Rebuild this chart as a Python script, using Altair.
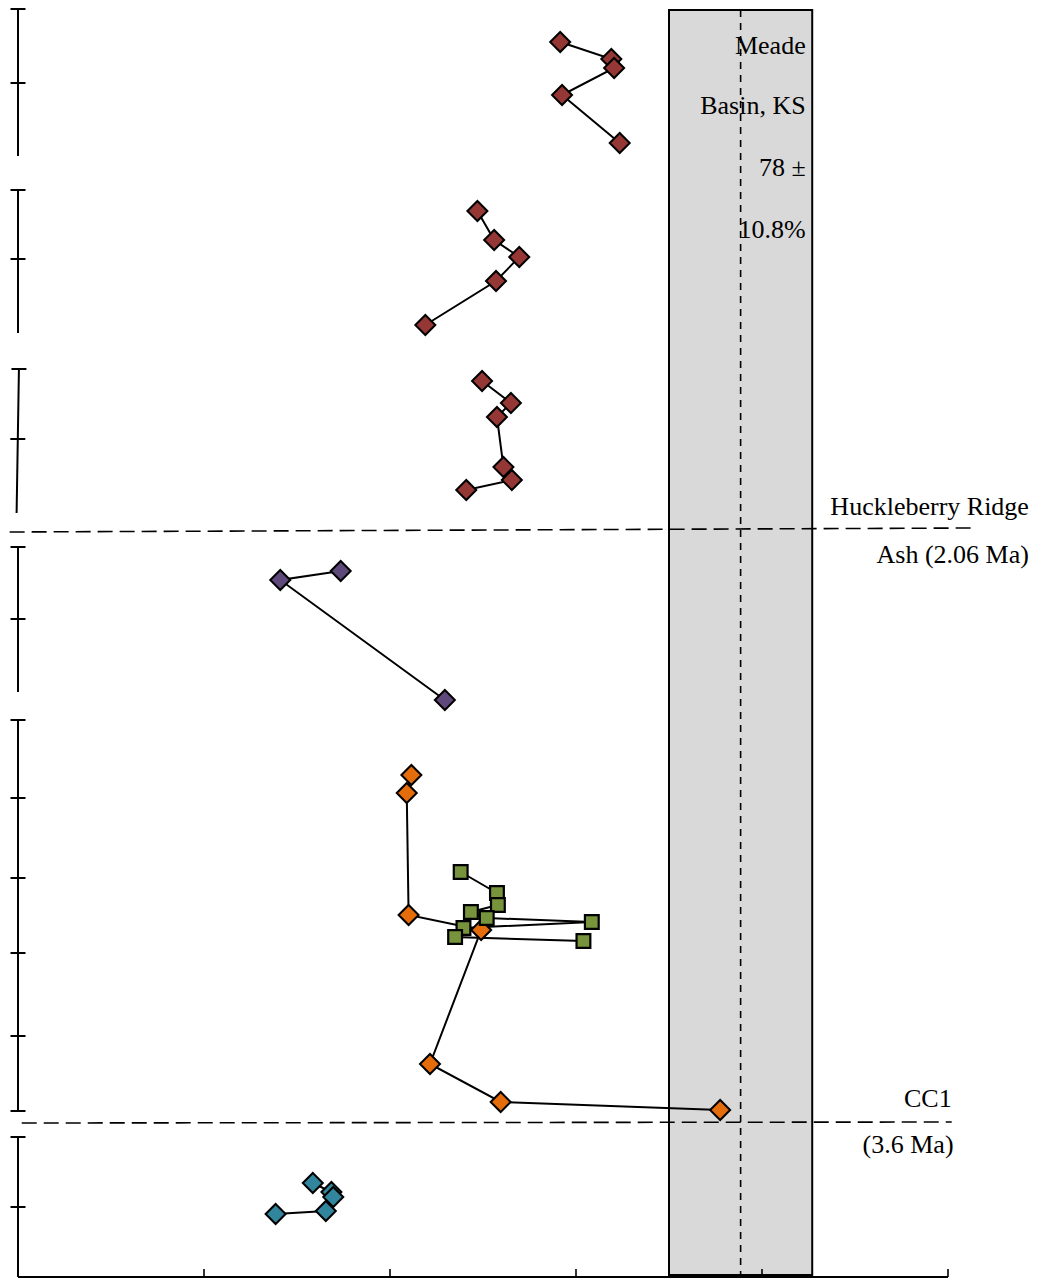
import altair as alt
import pandas as pd

# ---- data (x: percent, y: stratigraphic depth units) ----
red1_x = [58.3, 63.8, 64.1, 58.5, 64.7]
red1_y = [42, 59, 68, 95, 143]
red2_x = [49.4, 51.2, 53.9, 51.4, 43.8]
red2_y = [211, 240, 257, 281, 325]
red3_x = [49.9, 53.0, 51.5, 52.2, 53.1, 48.2]
red3_y = [381, 403, 417, 467, 480, 490]
purple_x = [34.7, 28.2, 45.9]
purple_y = [571, 580, 700]
orange_x = [42.3, 41.8, 42.0, 49.8, 44.3, 51.9, 75.5]
orange_y = [775, 793, 915, 930, 1064, 1102, 1110]
green_x = [47.6, 51.5, 51.6, 48.7, 50.4, 61.7, 47.9, 47.0, 60.8]
green_y = [872, 893, 905, 912, 918, 922, 928, 937, 941]
cyan_x = [31.7, 33.7, 33.9, 33.1, 27.7]
cyan_y = [1183, 1192, 1197, 1211, 1214]

series_names = ["red1", "red2", "red3", "purple", "orange", "green", "cyan"]
series_colors = ["#953735", "#953735", "#953735", "#5F497A", "#E46C0A", "#77933C", "#31859C"]

# left-hand section axes: top, bottom, x at top, x at bottom, tick depths
sec_top = [9, 190, 369, 547, 720, 1137]
sec_bot = [156, 333, 513, 692, 1111, 1277]
sec_xtop = [0.0, 0.0, 0.1, 0.0, 0.0, 0.0]
sec_xbot = [0.0, 0.0, -0.15, 0.0, 0.0, 0.0]
sec_ticks = [[9, 83], [190, 259], [369, 439], [547, 619],
             [720, 798, 878, 953, 1036, 1111], [1137, 1207]]

x_ticks = [20, 40, 60, 80, 100]
axis_depth = 1277

band_lo, band_hi, band_mid = 70.0, 85.4, 77.7
band_top, band_bot = 10, 1275

hlines_x1 = [-0.9, 0.4]
hlines_x2 = [102.7, 100.4]
hlines_y1 = [532, 1123]
hlines_y2 = [528, 1122]

label_text = ["Meade", "Basin, KS", "78 ±", "10.8%",
              "Huckleberry Ridge", "Ash (2.06 Ma)", "CC1", "(3.6 Ma)"]
label_x = [84.7, 84.7, 84.7, 84.7, 108.7, 108.7, 100.4, 100.6]
label_y = [54, 114, 176, 238, 515, 563, 1107, 1153]

# ---- tables ----
rows = []
for name, xs, ys in [("red1", red1_x, red1_y), ("red2", red2_x, red2_y),
                     ("red3", red3_x, red3_y), ("purple", purple_x, purple_y),
                     ("orange", orange_x, orange_y), ("green", green_x, green_y),
                     ("cyan", cyan_x, cyan_y)]:
    for i, (xv, yv) in enumerate(zip(xs, ys)):
        rows.append({"series": name, "i": i, "x": xv, "y": yv,
                     "marker": "square" if name == "green" else "diamond"})
pts = pd.DataFrame(rows)

sec_df = pd.DataFrame({"xt": sec_xtop, "xb": sec_xbot, "yt": sec_top, "yb": sec_bot})
tick_rows = []
for k, ts in enumerate(sec_ticks):
    for t in ts:
        frac = (t - sec_top[k]) / (sec_bot[k] - sec_top[k])
        tick_rows.append({"x": sec_xtop[k] + (sec_xbot[k] - sec_xtop[k]) * frac, "y": t})
tick_df = pd.DataFrame(tick_rows)
xtick_df = pd.DataFrame({"x": x_ticks, "y": [axis_depth] * len(x_ticks)})
xaxis_df = pd.DataFrame({"x": [0], "x2": [100], "y": [axis_depth]})
band_df = pd.DataFrame({"x": [band_lo], "x2": [band_hi], "y": [band_top], "y2": [band_bot]})
mid_df = pd.DataFrame({"x": [band_mid], "y": [band_top], "y2": [band_bot]})
hl_df = pd.DataFrame({"x": hlines_x1, "x2": hlines_x2, "y": hlines_y1, "y2": hlines_y2})
lab_df = pd.DataFrame({"text": label_text, "x": label_x, "y": label_y})

X = alt.Scale(domain=[0, 100], nice=False, zero=False)
Y = alt.Scale(domain=[0, 1280], nice=False, zero=False, reverse=True)
xe = lambda f="x": alt.X(f"{f}:Q", scale=X, axis=None)
ye = lambda f="y": alt.Y(f"{f}:Q", scale=Y, axis=None)

band = alt.Chart(band_df).mark_rect(fill="#D9D9D9", stroke="black", strokeWidth=2).encode(
    x=xe(), x2="x2:Q", y=ye(), y2="y2:Q")
mid = alt.Chart(mid_df).mark_rule(color="black", strokeWidth=1.6, strokeDash=[7, 6]).encode(
    x=xe(), y=ye(), y2="y2:Q")
hl = alt.Chart(hl_df).mark_rule(color="black", strokeWidth=1.6, strokeDash=[15, 7]).encode(
    x=xe(), x2="x2:Q", y=ye(), y2="y2:Q")
secs = alt.Chart(sec_df).mark_rule(color="black", strokeWidth=2).encode(
    x=xe("xt"), x2="xb:Q", y=ye("yt"), y2="yb:Q")
sticks = alt.Chart(tick_df).mark_tick(orient="horizontal", color="black", size=15,
                                      thickness=2, opacity=1).encode(x=xe(), y=ye())
xaxis = alt.Chart(xaxis_df).mark_rule(color="black", strokeWidth=2).encode(
    x=xe(), x2="x2:Q", y=ye())
xticks = alt.Chart(xtick_df).mark_tick(orient="vertical", color="black", size=8,
                                       thickness=1.6, yOffset=-4, opacity=1).encode(x=xe(), y=ye())

lines = alt.Chart(pts).mark_line(color="black", strokeWidth=2).encode(
    x=xe(), y=ye(), detail="series:N", order="i:Q")
fill = alt.Fill("series:N", scale=alt.Scale(domain=series_names, range=series_colors), legend=None)
diam = alt.Chart(pts).transform_filter(alt.datum.marker == "diamond").mark_point(
    shape="diamond", filled=True, size=400, stroke="black", strokeWidth=2, opacity=1
).encode(x=xe(), y=ye(), fill=fill)
sq = alt.Chart(pts).transform_filter(alt.datum.marker == "square").mark_point(
    shape="square", filled=True, size=190, stroke="black", strokeWidth=2.2, opacity=1
).encode(x=xe(), y=ye(), fill=fill)
labels = alt.Chart(lab_df).mark_text(align="right", baseline="alphabetic",
                                     font="Liberation Serif", fontSize=26, color="black").encode(
    x=xe(), y=ye(), text="text:N")

chart = alt.layer(band, mid, hl, secs, sticks, xaxis, xticks, lines, diam, sq, labels).properties(
    width=930, height=1280,
    padding={"left": 18, "top": 0, "right": 89, "bottom": 0},
    autosize=alt.AutoSizeParams(type="none"),
    background="white",
).configure_view(stroke=None)

chart.save("out.html", embed_options={"renderer": "svg", "actions": False})
